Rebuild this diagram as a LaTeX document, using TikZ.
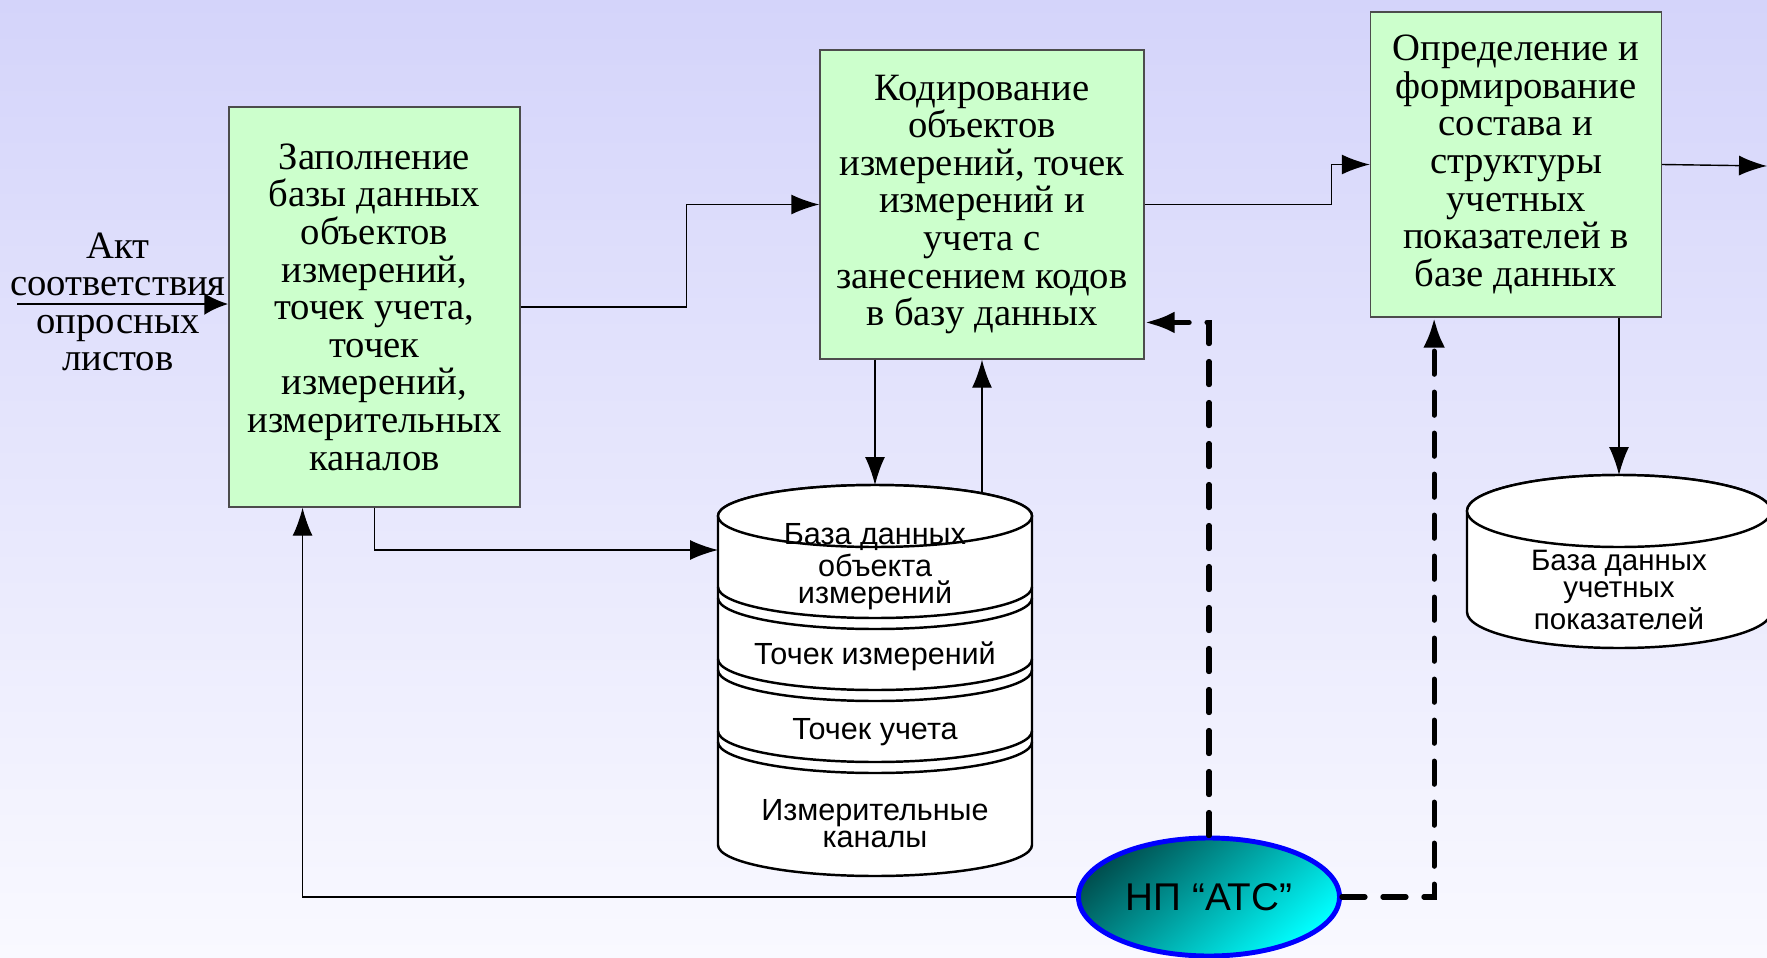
\documentclass[tikz,border=0pt]{standalone}
\usepackage{fontspec}
\setmainfont{Liberation Serif}
\setsansfont{Liberation Sans}
\usetikzlibrary{arrows.meta,shapes.geometric,calc}
\definecolor{bgtop}{RGB}{212,212,250}
\definecolor{bgbot}{RGB}{249,249,255}
\definecolor{boxgreen}{RGB}{204,255,204}
\definecolor{atsdark}{RGB}{0,80,80}
\definecolor{atscyan}{RGB}{0,255,255}
\tikzset{
  blk/.style={draw=black!70, line width=0.4pt, fill=boxgreen, align=center, inner sep=0pt,
    font=\fontsize{11}{10.7}\selectfont},
  dbtxt/.style={align=center, inner sep=0pt, font=\sffamily\fontsize{8.7}{7.7}\selectfont},
  dbline/.style={line width=0.7pt, fill=white},
  flow/.style={line width=0.4pt, -{Latex[length=2.8mm,width=2mm]}},
  ctl/.style={line width=1.5pt, dash pattern=on 2.3mm off 1.8mm, line cap=round,
    -{Latex[length=3mm,width=2.2mm]}},
}
\begin{document}
\begin{tikzpicture}[x=0.1mm,y=-0.1mm]
  \useasboundingbox (0,0) rectangle (1767,957);
  \node[minimum width=176.7mm, minimum height=95.7mm, inner sep=0pt,
    top color=bgtop, bottom color=bgbot] (bg) at (883.5,478.5) {};
  \node[blk, minimum width=29.1mm, minimum height=40mm] (b1) at (374.5,307)
    {Заполнение\\базы данных\\объектов\\измерений,\\точек учета,\\точек\\измерений,\\измерительных\\каналов};
  \node[blk, minimum width=32.4mm, minimum height=30.9mm] (b2) at (982,204.5)
    {Кодирование\\объектов\\измерений, точек\\измерений и\\учета с\\занесением кодов\\в базу данных};
  \node[blk, minimum width=29.1mm, minimum height=30.5mm] (b3) at (1516,164.5)
    {Определение и\\формирование\\состава и\\структуры\\учетных\\показателей в\\базе данных};
  \node[align=center, inner sep=0pt, font=\fontsize{11}{10.7}\selectfont] (akt) at (118,302)
    {Акт\\соответствия\\опросных\\листов};
  \filldraw[dbline] (718,516) -- (718,845) arc[start angle=180,end angle=0,x radius=157,y radius=31]
    -- (1032,516) arc[start angle=0,end angle=-180,x radius=157,y radius=31] -- cycle;
  \draw[dbline] (875,516) ellipse[x radius=157,y radius=31];
  \foreach \y in {587,598,659,670,731,742}
    \draw[line width=0.7pt] (718,\y) arc[start angle=180,end angle=0,x radius=157,y radius=31];
  \node[dbtxt] (db1) at (875,567) {База данных\\объекта\\измерений};
  \node[dbtxt] (db1b) at (875,656) {Точек измерений};
  \node[dbtxt] (db1c) at (875,732) {Точек учета};
  \node[dbtxt] (db1d) at (875,824) {Измерительные\\каналы};
  \filldraw[dbline] (1467,511) -- (1467,612) arc[start angle=180,end angle=0,x radius=152,y radius=36]
    -- (1771,511) arc[start angle=0,end angle=-180,x radius=152,y radius=36] -- cycle;
  \draw[dbline] (1619,511) ellipse[x radius=152,y radius=36];
  \node[dbtxt, font=\sffamily\fontsize{8.4}{7.7}\selectfont] (db2) at (1619,590)
    {База данных\\учетных\\показателей};
  \node[ellipse, draw=blue, line width=1.4pt, minimum width=26.1mm, minimum height=11.8mm,
    inner sep=0pt, top color=atsdark, bottom color=atscyan, shading angle=40,
    font=\sffamily\fontsize{11}{13}\selectfont] (atc) at (1209,897) {НП “АТС”};
  \coordinate (in) at (17,304);
  \coordinate (out) at (1767,166);
  \coordinate (db1top) at (875,485);
  \coordinate (db1in) at (982,493);
  \coordinate (db1w) at (718,550);
  \coordinate (db2top) at (1619,475);
  \draw[line width=0.8pt, -{Latex[length=2.4mm,width=2.2mm]}] (in) -- (in -| b1.west);
  \draw[flow] (b1.east) -- ++(166,0) |- (b2.west);
  \draw[flow] (b2.east) -- ++(187,0) |- (b3.west);
  \draw[flow] (b3.east) -- (out);
  \draw[flow] (b1.south) |- (db1w);
  \draw[flow] (db1top |- b2.south) -- (db1top);
  \draw[flow] (db1in) -- (db1in |- b2.south);
  \draw[flow] (db2top |- b3.south) -- (db2top);
  \draw[flow] (atc.west) -| ($(b1.south west)!0.254!(b1.south east)$);
  \draw[ctl] (atc.north) |- ($(b2.east)!0.76!(b2.south east)$);
  \draw[ctl] (atc.east) -| ($(b3.south west)!0.22!(b3.south east)$);
\end{tikzpicture}
\end{document}
